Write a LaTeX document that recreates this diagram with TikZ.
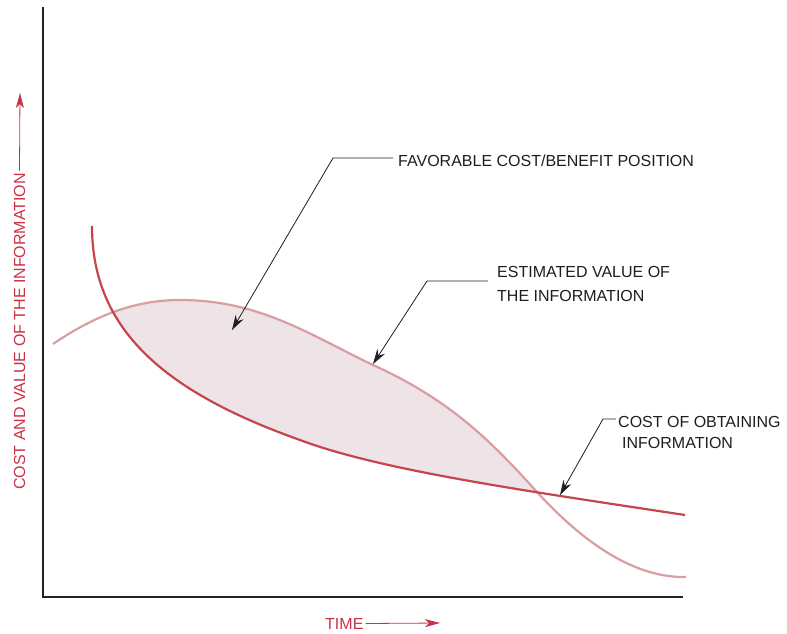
\documentclass[tikz,border=0pt]{standalone}
\usepackage{fontspec}
\setmainfont{Liberation Sans}
\usetikzlibrary{arrows.meta}
\definecolor{labelred}{RGB}{200,50,70}
\definecolor{costred}{RGB}{196,70,76}
\definecolor{valuepink}{RGB}{216,158,161}
\definecolor{fillpink}{RGB}{238,227,230}
\definecolor{axisgray}{RGB}{35,35,35}
\definecolor{leadergray}{RGB}{30,30,30}
\begin{document}
\begin{tikzpicture}[x=1pt,y=-1pt,
  lbl/.style={font=\fontsize{16}{21}\selectfont, inner sep=0pt, align=left, text=leadergray},
  leader/.style={draw=leadergray, line width=0.8pt},
  pointer/.style={leader, -{Stealth[length=15pt,width=9pt,inset=5pt]}},
  axislbl/.style={font=\fontsize{16}{19}\selectfont, text=labelred, inner sep=0pt},
  axisarrow/.style={draw=labelred, line width=0.8pt, -{Stealth[length=15pt,width=8pt,inset=4pt]}},
  axisline/.style={draw=axisgray, line width=2.5pt},
  costcurve/.style={draw=costred, line width=2.2pt},
  valuecurve/.style={draw=valuepink, line width=2.2pt}
  ]
\useasboundingbox (0,0) rectangle (787,634);

% shaded favourable region
\begin{scope}
  \clip (53,344) .. controls (100,312) and (140,300) .. (180,300)
        .. controls (260,300) and (310,335) .. (373,365)
        .. controls (450,400) and (490,440) .. (537,492)
        .. controls (590,550) and (640,578) .. (686,577)
        -- (686,634) -- (53,634) -- cycle;
  \fill[fillpink] (92,226) .. controls (92,330) and (165,392) .. (300,440)
        .. controls (380,470) and (520,490) .. (685,515)
        -- (685,0) -- (92,0) -- cycle;
\end{scope}

% curves
\draw[valuecurve] (53,344) .. controls (100,312) and (140,300) .. (180,300)
        .. controls (260,300) and (310,335) .. (373,365)
        .. controls (450,400) and (490,440) .. (537,492)
        .. controls (590,550) and (640,578) .. (686,577);
\draw[costcurve] (92,226) .. controls (92,330) and (165,392) .. (300,440)
        .. controls (380,470) and (520,490) .. (685,515);

% axes
\coordinate (ytop) at (43,7);
\coordinate (origin) at (43,597);
\coordinate (xend) at (683,597);
\draw[axisline] (ytop) -- (origin) -- (xend);

% axis labels
\node[axislbl, rotate=90, anchor=base west] (ylbl) at (25,490) {COST AND VALUE OF THE INFORMATION};
\coordinate (ytip) at (20,93);
\draw[axisarrow] ([yshift=2pt]ylbl.east) -- (ytip);

\node[axislbl, anchor=base west] (xlbl) at (325,629) {TIME};
\coordinate (xtip) at (440,623);
\draw[axisarrow] ([xshift=2pt]xlbl.east) -- (xtip);

% annotations
\node[lbl, anchor=base west] (fav) at (398,166.5) {FAVORABLE COST/BENEFIT POSITION};
\coordinate (favstart) at (393,158);
\coordinate (favelbow) at (333,158);
\coordinate (favtip) at (232,330);
\draw[pointer] (favstart) -- (favelbow) -- (favtip);

\node[lbl, font=\fontsize{16}{24}\selectfont, anchor=north west] (est) at (497,266.5) {ESTIMATED VALUE OF\\THE INFORMATION};
\coordinate (eststart) at (488,281);
\coordinate (estelbow) at (427,281);
\coordinate (esttip) at (373,364);
\draw[pointer] (eststart) -- (estelbow) -- (esttip);

\node[lbl, anchor=north west] (cst) at (618,416.5) {COST OF OBTAINING\\\hspace*{4pt}INFORMATION};
\coordinate (cststart) at (616,419);
\coordinate (cstelbow) at (603,419);
\coordinate (csttip) at (560,495);
\draw[pointer] (cststart) -- (cstelbow) -- (csttip);
\end{tikzpicture}
\end{document}
